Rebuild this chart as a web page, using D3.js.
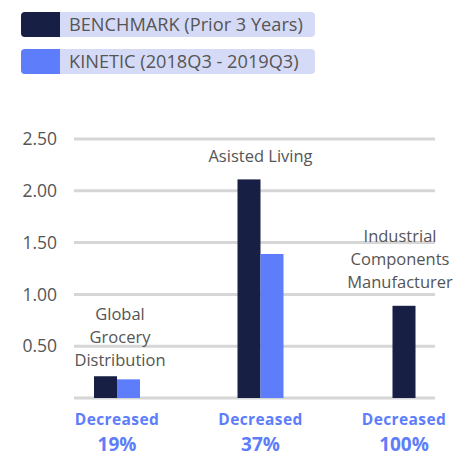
<!DOCTYPE html>
<html>
<head>
<meta charset="utf-8">
<script src="https://cdn.jsdelivr.net/npm/d3@7"></script>
<style>
  body { margin: 0; background: #fff; }
  text { font-family: "Open Sans", sans-serif; }
</style>
</head>
<body>
<svg id="chart" width="468" height="456"></svg>
<script>
// chart data
var categories = ["Global Grocery Distribution", "Asisted Living", "Industrial Components Manufacturer"];
var categoryLines = [["Global", "Grocery", "Distribution"], ["Asisted Living"], ["Industrial", "Components", "Manufacturer"]];
var benchmark = [0.21, 2.11, 0.89];
var kinetic = [0.18, 1.39, null];
var changeText = ["19%", "37%", "100%"];
var yTicks = [0.5, 1.0, 1.5, 2.0, 2.5];
var seriesNames = ["BENCHMARK (Prior 3 Years)", "KINETIC (2018Q3 - 2019Q3)"];
var seriesColors = ["#181f45", "#5d7dfb"];

var svg = d3.select("#chart");

// legend
var legend = svg.append("g");
seriesNames.forEach(function (name, i) {
    var g = legend.append("g").attr("transform", "translate(21," + (12 + i * 37) + ")");
    g.append("rect").attr("x", 0).attr("y", 0).attr("width", 294).attr("height", 25)
        .attr("rx", 4).attr("fill", "#d5dbf7");
    g.append("path")
        .attr("d", "M4,0 H39 V25 H4 Q0,25 0,21 V4 Q0,0 4,0 Z")
        .attr("fill", seriesColors[i]);
    g.append("text").attr("x", 48).attr("y", 18.5)
        .attr("font-size", "18.2px").attr("fill", "#555")
        .text(name);
});

// scales
var left = 74, right = 435;
var y = d3.scaleLinear().domain([0, 2.5]).range([398, 139]);
var x = d3.scalePoint().domain(categories).range([117, 404]);
var barW = 23;

// gridlines (incl. baseline)
svg.append("g").selectAll("line").data([0].concat(yTicks)).enter()
    .append("line")
    .attr("x1", left).attr("x2", right)
    .attr("y1", function (d) { return y(d); })
    .attr("y2", function (d) { return y(d); })
    .attr("stroke", "#d6d6d6").attr("stroke-width", 3);

// y axis labels
var yAxis = d3.axisLeft(y).tickValues(yTicks).tickFormat(d3.format(".2f")).tickSize(0).tickPadding(0);
svg.append("g").attr("transform", "translate(57,0)").call(yAxis)
    .call(function (g) { g.select(".domain").remove(); })
    .selectAll("text")
    .attr("font-family", "Open Sans, sans-serif")
    .attr("font-size", "17.5px").attr("fill", "#555");

// label offsets above the tallest bar, and small horizontal nudges
var labelGap = [10, 17, 18];
var labelShift = [3, 0, -4];

// bars
categories.forEach(function (c, i) {
    var vals = [benchmark[i], kinetic[i]];
    var present = vals.map(function (v, s) { return { v: v, s: s }; })
        .filter(function (d) { return d.v != null; });
    var inner = d3.scaleBand().domain(present.map(function (d) { return d.s; }))
        .range([x(c) - barW * present.length / 2, x(c) + barW * present.length / 2]);
    svg.append("g").selectAll("rect").data(present).enter()
        .append("rect")
        .attr("x", function (d) { return inner(d.s); })
        .attr("width", inner.bandwidth())
        .attr("y", function (d) { return y(d.v); })
        .attr("height", function (d) { return y(0) - y(d.v); })
        .attr("fill", function (d) { return seriesColors[d.s]; });

    // category label above the tallest bar
    var top = y(d3.max(present, function (d) { return d.v; }));
    var lines = categoryLines[i];
    var lbl = svg.append("text").attr("text-anchor", "middle")
        .attr("font-size", "16.5px").attr("fill", "#555");
    lines.forEach(function (t, k) {
        lbl.append("tspan").attr("x", x(c) + labelShift[i])
            .attr("y", top - labelGap[i] - (lines.length - 1 - k) * 23)
            .text(t);
    });

    // change text
    svg.append("text").attr("x", x(c)).attr("y", 425).attr("text-anchor", "middle")
        .attr("font-size", "15.5px").attr("font-weight", "bold").attr("fill", seriesColors[1])
        .attr("letter-spacing", "0.4px")
        .text("Decreased");
    svg.append("text").attr("x", x(c)).attr("y", 450.5).attr("text-anchor", "middle")
        .attr("font-size", "19px").attr("font-weight", "bold").attr("fill", seriesColors[1])
        .text(changeText[i]);
});
</script>
</body>
</html>
